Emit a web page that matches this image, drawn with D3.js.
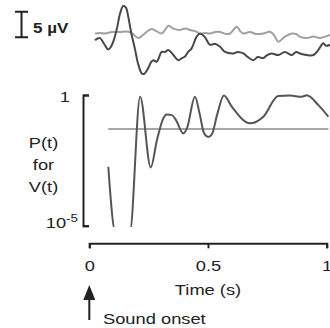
<!DOCTYPE html>
<html>
<head>
<meta charset="utf-8">
<script src="https://cdn.jsdelivr.net/npm/d3@7"></script>
<style>
  body { margin: 0; background: #fff; }
  text { font-family: "Liberation Sans", Arial, sans-serif; fill: #222; }
</style>
</head>
<body>
<div class="chart"></div>
<script>
// EEG traces, time in s, voltage in microvolts
var eegTime = [0.024, 0.045, 0.062, 0.080, 0.091, 0.101, 0.117, 0.129, 0.143, 0.155, 0.164, 0.176, 0.193, 0.205, 0.221, 0.230, 0.249, 0.260, 0.270, 0.284, 0.305, 0.319, 0.333, 0.354, 0.375, 0.390, 0.403, 0.416, 0.431, 0.452, 0.466, 0.487, 0.508, 0.529, 0.551, 0.572, 0.607, 0.626, 0.649, 0.668, 0.691, 0.710, 0.733, 0.749, 0.768, 0.796, 0.824, 0.853, 0.871, 0.887, 0.916, 0.944, 0.965, 0.986, 0.997, 1.014];
var eegDark = [-1.4, -1.0, -2.1, -3.2, -2.7, -1.7, 1.0, 3.7, 5.3, 4.9, 3.2, 0.2, -3.3, -5.9, -7.9, -8.0, -6.8, -5.7, -5.3, -5.6, -3.7, -3.7, -3.3, -4.3, -5.3, -4.9, -4.6, -3.7, -3.0, -0.7, -0.1, -0.8, -2.3, -2.1, -2.7, -3.7, -4.0, -3.7, -4.0, -4.7, -5.3, -4.7, -4.9, -4.3, -4.0, -4.3, -3.7, -4.3, -3.7, -4.0, -4.3, -4.3, -3.3, -2.0, -2.5, -2.3];
var lightTime = [0.024, 0.045, 0.066, 0.096, 0.129, 0.164, 0.184, 0.206, 0.226, 0.242, 0.263, 0.281, 0.305, 0.319, 0.333, 0.357, 0.382, 0.403, 0.424, 0.452, 0.466, 0.487, 0.508, 0.537, 0.551, 0.576, 0.593, 0.621, 0.635, 0.649, 0.677, 0.702, 0.733, 0.761, 0.778, 0.796, 0.824, 0.853, 0.871, 0.887, 0.916, 0.944, 0.972, 0.993, 1.014];
var eegLight = [-0.1, 0, -0.1, 0.2, 0.2, 0.25, -0.2, -1.0, -0.4, 0.25, 0.8, 0.4, -0.1, 0.6, 1.4, 0.8, 0.6, 0.9, 0.6, 0.25, -0.2, 0, -0.1, 0.25, 0.2, -0.2, -0.1, 1.2, 0.4, -0.1, 0.2, -0.2, -0.1, 0.25, -0.4, -1.7, -0.7, -0.1, -0.2, -0.7, -1.0, -0.7, -1.0, -0.7, -0.4];

// P(t) for V(t)
var pTime = [0.080, 0.110, 0.171, 0.214, 0.259, 0.285, 0.312, 0.326, 0.348, 0.365, 0.396, 0.412, 0.445, 0.466, 0.483, 0.501, 0.517, 0.538, 0.567, 0.600, 0.677, 0.733, 0.796, 0.845, 0.895, 0.916, 0.965, 1.007];
var pValue = [1.8e-3, 5.7e-6, 5.7e-6, 0.86, 1.7e-3, 0.019, 0.13, 0.18, 0.17, 0.11, 0.034, 0.055, 0.86, 0.17, 0.035, 0.025, 0.032, 0.17, 0.95, 0.36, 0.083, 0.148, 0.92, 0.95, 0.86, 0.97, 0.41, 0.148];
var pThreshold = 0.05;

var timeTicks = [0, 0.5, 1];
var pTicks = [1e-5, 1];
var scaleBarUV = 5;

var W = 330, H = 328, sx = 1.22;

var svg = d3.select('.chart').append('svg')
  .attr('width', W).attr('height', H);

var x = d3.scaleLinear().domain([0, 1]).range([89.3, 326.7]);
var v = d3.scaleLinear().domain([0, 5]).range([33, 7.4]);
var p = d3.scaleLog().domain([1e-5, 1]).range([225.7, 95]);

function label(px, py, s, anchor, size, weight) {
  return svg.append('text')
    .attr('transform', 'translate(' + px + ',' + py + ') scale(' + sx + ',1)')
    .attr('text-anchor', anchor || 'start')
    .style('font-size', (size || 15) + 'px')
    .style('font-weight', weight || 'normal')
    .text(s);
}

// EEG traces
var eegLine = d3.line().x(d => x(d[0])).y(d => v(d[1])).curve(d3.curveCatmullRom);
svg.append('path')
  .datum(d3.zip(lightTime, eegLight))
  .attr('d', eegLine)
  .attr('fill', 'none').attr('stroke', '#a0a0a0').attr('stroke-width', 2);
svg.append('path')
  .datum(d3.zip(eegTime, eegDark))
  .attr('d', eegLine)
  .attr('fill', 'none').attr('stroke', '#484848').attr('stroke-width', 2);

// scale bar
var barTop = 11.7, barLen = v(0) - v(scaleBarUV);
svg.append('path')
  .attr('d', 'M15,' + barTop + 'H28M21.5,' + barTop + 'V' + (barTop + barLen) + 'M15,' + (barTop + barLen) + 'H28')
  .attr('fill', 'none').attr('stroke', '#222').attr('stroke-width', 2);
label(33, 33, '5 \u00b5V', 'start', 14, 'bold');

// P panel
svg.append('clipPath').attr('id', 'pclip')
  .append('rect').attr('x', 0).attr('y', 0).attr('width', W).attr('height', 227);

svg.append('line')
  .attr('x1', x(pTime[0])).attr('x2', x(pTime[pTime.length - 1]))
  .attr('y1', p(pThreshold)).attr('y2', p(pThreshold))
  .attr('stroke', '#8a8a8a').attr('stroke-width', 1.5);

var pLine = d3.line().x(d => x(d[0])).y(d => p(d[1])).curve(d3.curveMonotoneX);
svg.append('path')
  .datum(d3.zip(pTime, pValue))
  .attr('d', pLine)
  .attr('clip-path', 'url(#pclip)')
  .attr('fill', 'none').attr('stroke', '#555').attr('stroke-width', 2);

var yAxis = svg.append('g')
  .attr('transform', 'translate(83,0)')
  .call(d3.axisLeft(p).tickValues(pTicks).tickSize(-6).tickFormat(''));
yAxis.selectAll('path, line').attr('stroke', '#222').attr('stroke-width', 2);

label(70, p(1) + 7, '1', 'end');
var t5 = label(78, p(1e-5) + 2.5, '10', 'end');
t5.append('tspan').attr('dy', -6).style('font-size', '11px').text('-5');

label(43.5, 148, 'P(t)', 'middle');
label(43.5, 170, 'for', 'middle');
label(43.5, 192, 'V(t)', 'middle');

// time axis
var xAxis = svg.append('g')
  .attr('transform', 'translate(0,243.3)')
  .call(d3.axisBottom(x).tickValues(timeTicks).tickSize(5).tickPadding(12)
    .tickFormat(d => d));
xAxis.selectAll('path, line').attr('stroke', '#222').attr('stroke-width', 2);
xAxis.selectAll('text')
  .attr('transform', 'scale(' + sx + ',1)')
  .style('font-size', '15px')
  .style('font-family', '"Liberation Sans", Arial, sans-serif')
  .attr('fill', '#222');

label(208, 295, 'Time (s)', 'middle');

// sound onset arrow
svg.append('line')
  .attr('x1', x(0)).attr('x2', x(0)).attr('y1', 298).attr('y2', 320)
  .attr('stroke', '#222').attr('stroke-width', 2);
svg.append('path')
  .attr('d', 'M' + x(0) + ',285L' + (x(0) - 6) + ',300L' + (x(0) + 6) + ',300Z')
  .attr('fill', '#222');
label(103, 324, 'Sound onset', 'start');
</script>
</body>
</html>
